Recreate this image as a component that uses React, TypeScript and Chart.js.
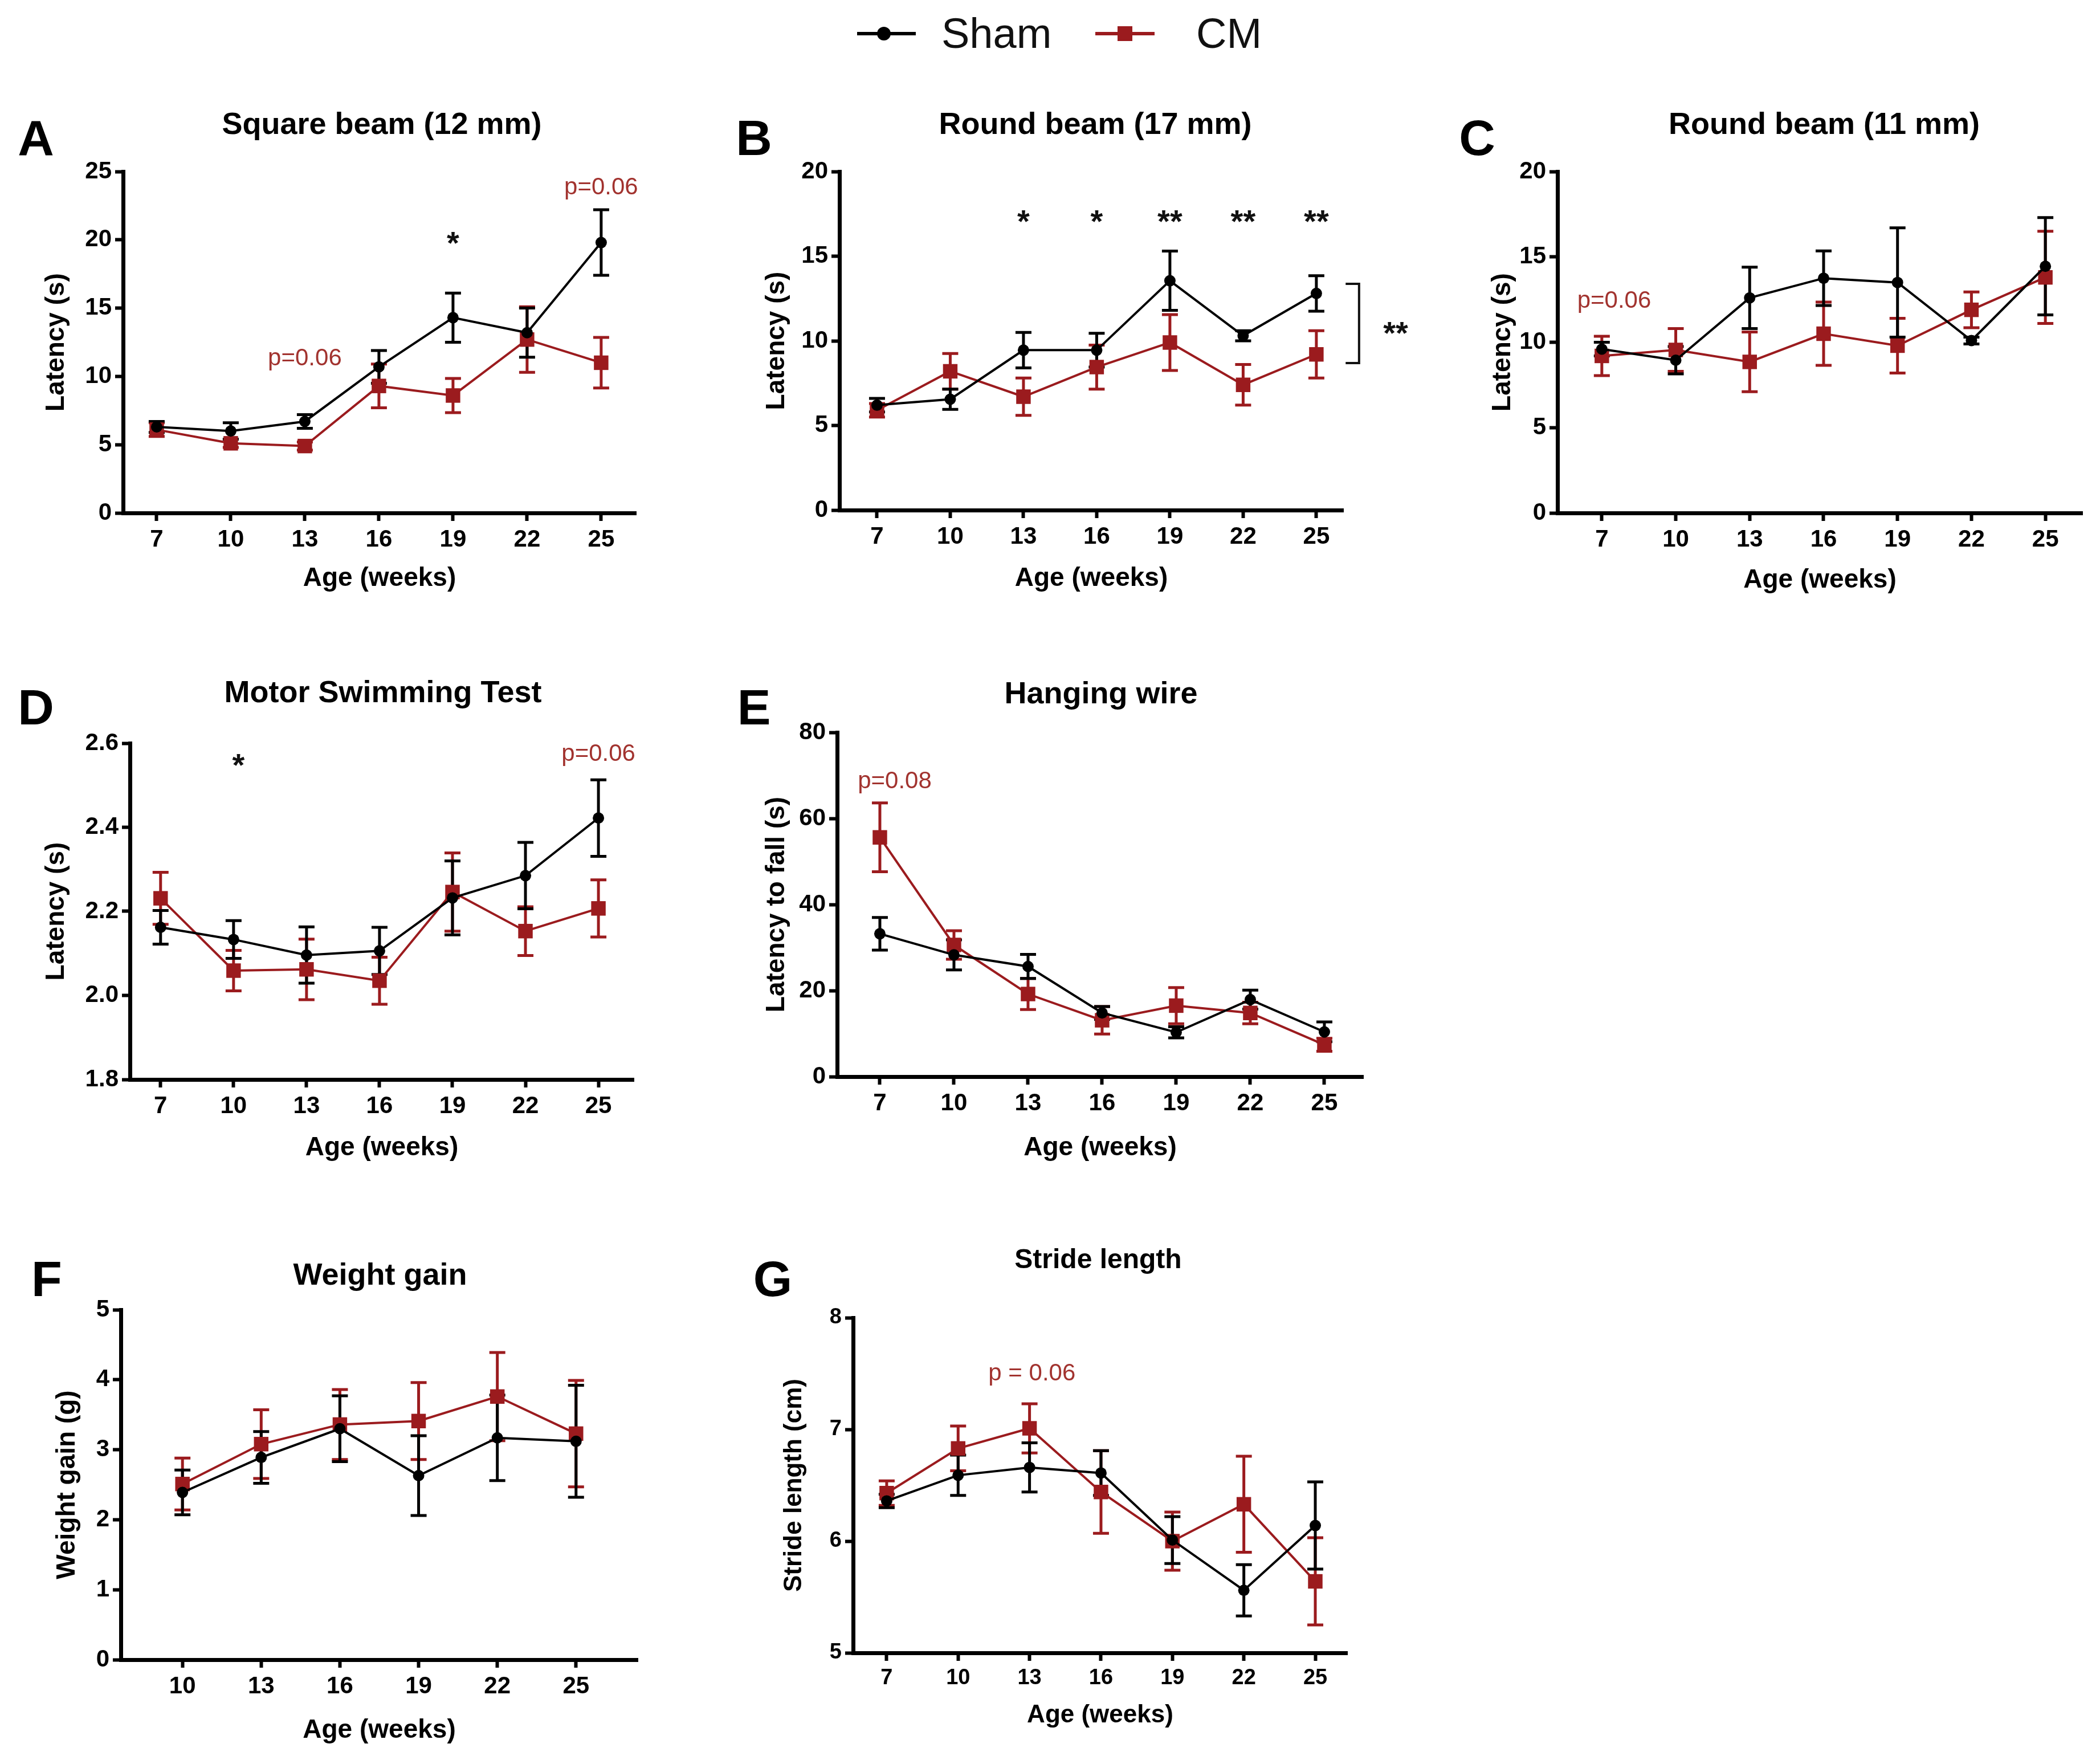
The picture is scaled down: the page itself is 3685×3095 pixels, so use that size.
import React, { useEffect, useRef } from "react";
import { Chart, registerables } from "chart.js";
Chart.register(...registerables);

const FONT = "'Liberation Sans', Arial, Helvetica, sans-serif";
const BLACK = "#000000";
const RED = "#9b1b1e";
const PTEXT = "#a2332f";

const weeks = [7, 10, 13, 16, 19, 22, 25];
const weeksWeight = [10, 13, 16, 19, 22, 25];

// A: Square beam (12 mm)
const squareShamMean = [6.3, 6.0, 6.7, 10.7, 14.3, 13.2, 19.8];
const squareShamSem = [0.4, 0.6, 0.5, 1.2, 1.8, 1.8, 2.4];
const squareCmMean = [6.1, 5.1, 4.9, 9.3, 8.6, 12.7, 11.0];
const squareCmSem = [0.5, 0.3, 0.3, 1.6, 1.25, 2.4, 1.85];
const squareYTicks = [0, 5, 10, 15, 20, 25];
const squareNotes = [
  { x: 19, y: 20.3, text: "*", kind: "star" },
  { x: 25, y: 23.8, text: "p=0.06", kind: "p" },
  { x: 13, y: 11.3, text: "p=0.06", kind: "p" },
];

// B: Round beam (17 mm)
const round17ShamMean = [6.2, 6.55, 9.45, 9.45, 13.55, 10.3, 12.8];
const round17ShamSem = [0.4, 0.6, 1.05, 1.0, 1.75, 0.3, 1.05];
const round17CmMean = [5.9, 8.2, 6.7, 8.45, 9.9, 7.4, 9.2];
const round17CmSem = [0.4, 1.05, 1.1, 1.3, 1.65, 1.2, 1.4];
const round17YTicks = [0, 5, 10, 15, 20];
const round17Notes = [
  { x: 13, y: 17.5, text: "*", kind: "star" },
  { x: 16, y: 17.5, text: "*", kind: "star" },
  { x: 19, y: 17.5, text: "**", kind: "star" },
  { x: 22, y: 17.5, text: "**", kind: "star" },
  { x: 25, y: 17.5, text: "**", kind: "star" },
  { x: 28.25, y: 10.9, text: "**", kind: "star" },
];
const round17Bracket = { x: 26.75, xEnd: 26.2, yTop: 13.37, yBottom: 8.69 };

// C: Round beam (11 mm)
const round11ShamMean = [9.6, 8.95, 12.6, 13.75, 13.5, 10.1, 14.45];
const round11ShamSem = [0.4, 0.8, 1.8, 1.6, 3.2, 0.2, 2.85];
const round11CmMean = [9.2, 9.55, 8.85, 10.5, 9.8, 11.9, 13.8];
const round11CmSem = [1.15, 1.25, 1.75, 1.85, 1.6, 1.05, 2.7];
const round11YTicks = [0, 5, 10, 15, 20];
const round11Notes = [{ x: 7.5, y: 12.4, text: "p=0.06", kind: "p" }];

// D: Motor Swimming Test
const swimShamMean = [2.162, 2.133, 2.096, 2.106, 2.232, 2.285, 2.422];
const swimShamSem = [0.04, 0.045, 0.067, 0.056, 0.088, 0.079, 0.091];
const swimCmMean = [2.231, 2.059, 2.062, 2.035, 2.246, 2.153, 2.207];
const swimCmSem = [0.062, 0.048, 0.072, 0.056, 0.093, 0.058, 0.068];
const swimYTicks = [1.8, 2.0, 2.2, 2.4, 2.6];
const swimNotes = [
  { x: 10.2, y: 2.565, text: "*", kind: "star" },
  { x: 25, y: 2.574, text: "p=0.06", kind: "p" },
];

// E: Hanging wire
const wireShamMean = [33.2, 28.3, 25.6, 14.8, 10.3, 17.9, 10.4];
const wireShamSem = [3.8, 3.5, 2.8, 1.5, 1.3, 2.2, 2.3];
const wireCmMean = [55.6, 30.6, 19.2, 13.1, 16.5, 14.8, 7.4];
const wireCmSem = [8.0, 3.3, 3.6, 3.2, 4.2, 2.5, 1.5];
const wireYTicks = [0, 20, 40, 60, 80];
const wireNotes = [{ x: 7.6, y: 68.5, text: "p=0.08", kind: "p" }];

// F: Weight gain
const weightShamMean = [2.39, 2.89, 3.3, 2.63, 3.17, 3.12];
const weightShamSem = [0.32, 0.37, 0.47, 0.57, 0.61, 0.8];
const weightCmMean = [2.51, 3.08, 3.36, 3.41, 3.76, 3.23];
const weightCmSem = [0.37, 0.49, 0.5, 0.55, 0.63, 0.76];
const weightYTicks = [0, 1, 2, 3, 4, 5];

// G: Stride length
const strideShamMean = [6.36, 6.59, 6.66, 6.61, 6.01, 5.56, 6.14];
const strideShamSem = [0.06, 0.18, 0.22, 0.2, 0.21, 0.23, 0.39];
const strideCmMean = [6.43, 6.83, 7.01, 6.44, 6.0, 6.33, 5.64];
const strideCmSem = [0.11, 0.2, 0.22, 0.37, 0.26, 0.43, 0.39];
const strideYTicks = [5, 6, 7, 8];
const strideNotes = [{ x: 13.1, y: 7.5, text: "p = 0.06", kind: "p" }];

type Note = { x: number; y: number; text: string; kind: string };
type Bracket = { x: number; xEnd: number; yTop: number; yBottom: number };

type PanelCfg = {
  letter: string;
  letterX: number;
  letterY: number;
  title: string;
  titleX: number;
  titleY: number;
  titleSize: number;
  L: number;
  R: number;
  T: number;
  B: number;
  yTitleX: number;
  xTitleY: number;
  axFs: number;
  tickSize: number;
  tp: number;
  rp: number;
  xMin: number;
  xMax: number;
  xs: number[];
  yMin: number;
  yMax: number;
  yTicks: number[];
  yDecimals: number;
  yTitle: string;
  sham: number[];
  shamErr: number[];
  cm: number[];
  cmErr: number[];
  notes: Note[];
  bracket?: Bracket;
};

const panels: PanelCfg[] = [
  {
    letter: "A", letterX: 63, letterY: 242,
    title: "Square beam (12 mm)", titleX: 670, titleY: 216, titleSize: 54,
    L: 216, R: 1116, T: 301, B: 900, yTitleX: 99, xTitleY: 1015, axFs: 46, tickSize: 42,
    tp: 150, rp: 60, xMin: 5.64, xMax: 26.41, xs: weeks,
    yMin: 0, yMax: 25, yTicks: squareYTicks, yDecimals: 0, yTitle: "Latency (s)",
    sham: squareShamMean, shamErr: squareShamSem, cm: squareCmMean, cmErr: squareCmSem,
    notes: squareNotes,
  },
  {
    letter: "B", letterX: 1323, letterY: 242,
    title: "Round beam (17 mm)", titleX: 1922, titleY: 216, titleSize: 54,
    L: 1473, R: 2357, T: 301, B: 895, yTitleX: 1363, xTitleY: 1015, axFs: 46, tickSize: 42,
    tp: 150, rp: 250, xMin: 5.46, xMax: 26.1, xs: weeks,
    yMin: 0, yMax: 20, yTicks: round17YTicks, yDecimals: 0, yTitle: "Latency (s)",
    sham: round17ShamMean, shamErr: round17ShamSem, cm: round17CmMean, cmErr: round17CmSem,
    notes: round17Notes, bracket: round17Bracket,
  },
  {
    letter: "C", letterX: 2592, letterY: 242,
    title: "Round beam (11 mm)", titleX: 3201, titleY: 216, titleSize: 54,
    L: 2733, R: 3654, T: 301, B: 900, yTitleX: 2637, xTitleY: 1018, axFs: 46, tickSize: 42,
    tp: 150, rp: 25, xMin: 5.2, xMax: 26.5, xs: weeks,
    yMin: 0, yMax: 20, yTicks: round11YTicks, yDecimals: 0, yTitle: "Latency (s)",
    sham: round11ShamMean, shamErr: round11ShamSem, cm: round11CmMean, cmErr: round11CmSem,
    notes: round11Notes,
  },
  {
    letter: "D", letterX: 63, letterY: 1241,
    title: "Motor Swimming Test", titleX: 672, titleY: 1213, titleSize: 54,
    L: 228, R: 1112, T: 1304, B: 1894, yTitleX: 99, xTitleY: 2014, axFs: 46, tickSize: 42,
    tp: 150, rp: 60, xMin: 5.74, xMax: 26.45, xs: weeks,
    yMin: 1.8, yMax: 2.6, yTicks: swimYTicks, yDecimals: 1, yTitle: "Latency (s)",
    sham: swimShamMean, shamErr: swimShamSem, cm: swimCmMean, cmErr: swimCmSem,
    notes: swimNotes,
  },
  {
    letter: "E", letterX: 1323, letterY: 1241,
    title: "Hanging wire", titleX: 1932, titleY: 1215, titleSize: 54,
    L: 1469, R: 2392, T: 1285, B: 1889, yTitleX: 1363, xTitleY: 2014, axFs: 46, tickSize: 42,
    tp: 150, rp: 60, xMin: 5.27, xMax: 26.57, xs: weeks,
    yMin: 0, yMax: 80, yTicks: wireYTicks, yDecimals: 0, yTitle: "Latency to fall (s)",
    sham: wireShamMean, shamErr: wireShamSem, cm: wireCmMean, cmErr: wireCmSem,
    notes: wireNotes,
  },
  {
    letter: "F", letterX: 82, letterY: 2244,
    title: "Weight gain", titleX: 667, titleY: 2235, titleSize: 54,
    L: 212, R: 1119, T: 2298, B: 2912, yTitleX: 118, xTitleY: 3036, axFs: 46, tickSize: 42,
    tp: 150, rp: 60, xMin: 7.65, xMax: 27.35, xs: weeksWeight,
    yMin: 0, yMax: 5, yTicks: weightYTicks, yDecimals: 0, yTitle: "Weight gain (g)",
    sham: weightShamMean, shamErr: weightShamSem, cm: weightCmMean, cmErr: weightCmSem,
    notes: [],
  },
  {
    letter: "G", letterX: 1356, letterY: 2244,
    title: "Stride length", titleX: 1927, titleY: 2209, titleSize: 48,
    L: 1497, R: 2364, T: 2312, B: 2900, yTitleX: 1394, xTitleY: 3010, axFs: 44, tickSize: 38,
    tp: 150, rp: 60, xMin: 5.59, xMax: 26.34, xs: weeks,
    yMin: 5, yMax: 8, yTicks: strideYTicks, yDecimals: 0, yTitle: "Stride length (cm)",
    sham: strideShamMean, shamErr: strideShamSem, cm: strideCmMean, cmErr: strideCmSem,
    notes: strideNotes,
  },
];

function makeErrPlugin(errs: number[][], vals: number[][]) {
  return {
    id: "errbars",
    beforeDatasetsDraw(chart: any) {
      const ctx = chart.ctx;
      const ys = chart.scales.y;
      for (let i = chart.data.datasets.length - 1; i >= 0; i--) {
        const ds = chart.data.datasets[i];
        const meta = chart.getDatasetMeta(i);
        ctx.save();
        ctx.strokeStyle = ds.borderColor;
        ctx.lineWidth = 5;
        meta.data.forEach((pt: any, j: number) => {
          const v = vals[i][j];
          const e = errs[i][j];
          const x = pt.x;
          const y1 = ys.getPixelForValue(v + e);
          const y2 = ys.getPixelForValue(v - e);
          const cap = 14;
          ctx.beginPath();
          ctx.moveTo(x, y1);
          ctx.lineTo(x, y2);
          ctx.moveTo(x - cap, y1);
          ctx.lineTo(x + cap, y1);
          ctx.moveTo(x - cap, y2);
          ctx.lineTo(x + cap, y2);
          ctx.stroke();
        });
        ctx.restore();
      }
    },
  };
}

function makeNotePlugin(notes: Note[], bracket?: Bracket) {
  return {
    id: "notes",
    afterDatasetsDraw(chart: any) {
      const ctx = chart.ctx;
      const xs = chart.scales.x;
      const ys = chart.scales.y;
      ctx.save();
      notes.forEach((n) => {
        const px = xs.getPixelForValue(n.x);
        const py = ys.getPixelForValue(n.y);
        ctx.textAlign = "center";
        ctx.textBaseline = "middle";
        if (n.kind === "star") {
          ctx.font = `bold 56px ${FONT}`;
          ctx.fillStyle = "#111111";
          ctx.fillText(n.text, px, py + 16);
        } else {
          ctx.font = `42px ${FONT}`;
          ctx.fillStyle = PTEXT;
          ctx.fillText(n.text, px, py);
        }
      });
      if (bracket) {
        const bx = xs.getPixelForValue(bracket.x);
        const be = xs.getPixelForValue(bracket.xEnd);
        const t = ys.getPixelForValue(bracket.yTop);
        const b = ys.getPixelForValue(bracket.yBottom);
        ctx.strokeStyle = "#111111";
        ctx.lineWidth = 4;
        ctx.beginPath();
        ctx.moveTo(be, t);
        ctx.lineTo(bx, t);
        ctx.lineTo(bx, b);
        ctx.lineTo(be, b);
        ctx.stroke();
      }
      ctx.restore();
    },
  };
}

function Panel({ cfg }: { cfg: PanelCfg }) {
  const ref = useRef<HTMLCanvasElement | null>(null);
  const canvasLeft = cfg.yTitleX - cfg.axFs / 2;
  const canvasTop = cfg.T - cfg.tp;
  const canvasBottom = cfg.xTitleY + cfg.axFs / 2;
  const canvasRight = cfg.R + cfg.rp;
  const yw = cfg.L - canvasLeft;
  const xh = canvasBottom - cfg.B;
  const w = Math.round(canvasRight - canvasLeft);
  const h = Math.round(canvasBottom - canvasTop);

  useEffect(() => {
    if (!ref.current) return;
    const mk = (vals: number[]) => cfg.xs.map((x, i) => ({ x, y: vals[i] }));
    const tickFont = { family: FONT, size: cfg.tickSize, weight: "bold" as const };
    const titleFont = { family: FONT, size: cfg.axFs, weight: "bold" as const, lineHeight: 1 };
    const grid = {
      display: true,
      drawOnChartArea: false,
      drawTicks: true,
      tickLength: 14,
      tickWidth: 6,
      tickColor: BLACK,
    };
    const chart = new Chart(ref.current, {
      type: "line",
      data: {
        datasets: [
          {
            label: "Sham",
            data: mk(cfg.sham),
            borderColor: BLACK,
            backgroundColor: BLACK,
            borderWidth: 4,
            pointStyle: "circle",
            pointRadius: 10,
            pointBorderWidth: 0,
            tension: 0,
          },
          {
            label: "CM",
            data: mk(cfg.cm),
            borderColor: RED,
            backgroundColor: RED,
            borderWidth: 4,
            pointStyle: "rect",
            pointRadius: 18,
            pointBorderWidth: 0,
            tension: 0,
          },
        ],
      },
      options: {
        animation: false,
        responsive: false,
        devicePixelRatio: 1,
        layout: { padding: { top: cfg.tp, right: cfg.rp, left: 0, bottom: 0 } },
        plugins: {
          legend: { display: false },
          tooltip: { enabled: false },
          title: { display: false },
        },
        scales: {
          x: {
            type: "linear",
            min: cfg.xMin,
            max: cfg.xMax,
            afterBuildTicks: (s: any) => {
              s.ticks = cfg.xs.map((v) => ({ value: v }));
            },
            afterFit: (s: any) => {
              s.height = xh;
            },
            grid,
            border: { display: true, color: BLACK, width: 7 },
            ticks: {
              color: BLACK,
              font: tickFont,
              padding: 8,
              autoSkip: false,
              maxRotation: 0,
              callback: (v: any) => String(v),
            },
            title: {
              display: true,
              text: "Age (weeks)",
              color: BLACK,
              font: titleFont,
              padding: 0,
            },
          },
          y: {
            type: "linear",
            min: cfg.yMin,
            max: cfg.yMax,
            afterBuildTicks: (s: any) => {
              s.ticks = cfg.yTicks.map((v) => ({ value: v }));
            },
            afterFit: (s: any) => {
              s.width = yw;
            },
            grid,
            border: { display: true, color: BLACK, width: 7 },
            ticks: {
              color: BLACK,
              font: tickFont,
              padding: 6,
              callback: (v: any) => Number(v).toFixed(cfg.yDecimals),
            },
            title: {
              display: true,
              text: cfg.yTitle,
              color: BLACK,
              font: titleFont,
              padding: 0,
            },
          },
        },
      },
      plugins: [
        makeErrPlugin([cfg.shamErr, cfg.cmErr], [cfg.sham, cfg.cm]),
        makeNotePlugin(cfg.notes, cfg.bracket),
      ],
    } as any);
    return () => chart.destroy();
  }, []);

  return (
    <>
      <canvas
        ref={ref}
        width={w}
        height={h}
        style={{ position: "absolute", left: canvasLeft, top: canvasTop, width: w, height: h }}
      />
      <div
        style={{
          position: "absolute",
          left: cfg.titleX,
          top: cfg.titleY,
          transform: "translate(-50%, -50%)",
          font: `bold ${cfg.titleSize}px ${FONT}`,
          lineHeight: 1,
          whiteSpace: "nowrap",
          color: BLACK,
        }}
      >
        {cfg.title}
      </div>
      <div
        style={{
          position: "absolute",
          left: cfg.letterX,
          top: cfg.letterY,
          transform: "translate(-50%, -50%)",
          font: `bold 88px ${FONT}`,
          lineHeight: 1,
          color: BLACK,
        }}
      >
        {cfg.letter}
      </div>
    </>
  );
}

function Legend() {
  const cy = 59;
  return (
    <>
      <div style={{ position: "absolute", left: 1504, top: cy - 3, width: 103, height: 6, background: BLACK }} />
      <div
        style={{
          position: "absolute",
          left: 1551 - 12,
          top: cy - 12,
          width: 24,
          height: 24,
          borderRadius: "50%",
          background: BLACK,
        }}
      />
      <div
        style={{
          position: "absolute",
          left: 1652,
          top: cy,
          transform: "translateY(-50%)",
          font: `74px ${FONT}`,
          lineHeight: 1,
          color: "#111",
        }}
      >
        Sham
      </div>
      <div style={{ position: "absolute", left: 1922, top: cy - 3, width: 104, height: 6, background: RED }} />
      <div
        style={{
          position: "absolute",
          left: 1974 - 13,
          top: cy - 13,
          width: 26,
          height: 26,
          background: RED,
        }}
      />
      <div
        style={{
          position: "absolute",
          left: 2099,
          top: cy,
          transform: "translateY(-50%)",
          font: `74px ${FONT}`,
          lineHeight: 1,
          color: "#111",
        }}
      >
        CM
      </div>
    </>
  );
}

export default function App() {
  return (
    <div
      style={{
        position: "absolute",
        left: 0,
        top: 0,
        width: 3685,
        height: 3095,
        overflow: "hidden",
        background: "#ffffff",
        fontFamily: FONT,
      }}
    >
      <Legend />
      {panels.map((p) => (
        <Panel key={p.letter} cfg={p} />
      ))}
    </div>
  );
}
